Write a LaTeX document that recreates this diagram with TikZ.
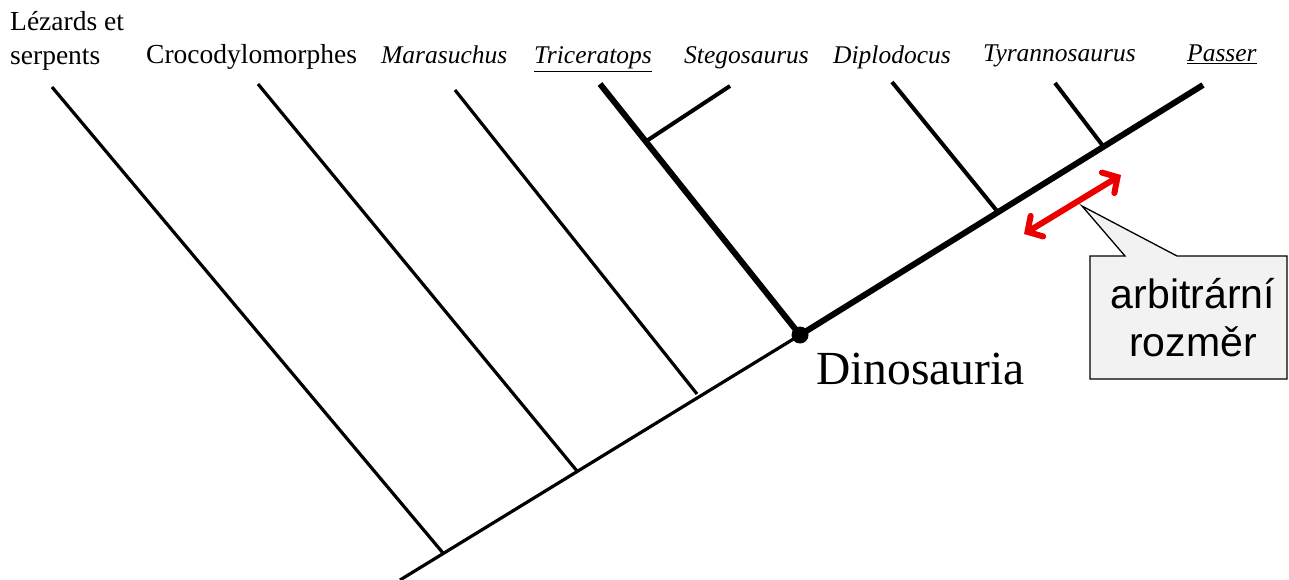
\documentclass[tikz,border=0pt]{standalone}
\usepackage{fontspec}
\setmainfont{Liberation Serif}
\newfontfamily\calloutfont{Liberation Sans}
\usetikzlibrary{arrows.meta}
\definecolor{calloutgray}{RGB}{242,242,242}
\definecolor{arrowred}{RGB}{235,0,0}
\tikzset{
  thinbr/.style={line width=3.2pt, black},
  thickbr/.style={line width=6pt, black},
  taxon/.style={anchor=base west, inner sep=0pt, font=\fontsize{27.5}{30}\selectfont},
  taxonit/.style={anchor=base west, inner sep=0pt, font=\fontsize{25.5}{28}\selectfont\itshape},
}
\begin{document}
\begin{tikzpicture}[x=1pt,y=-1pt]
\useasboundingbox (0,0) rectangle (1289,580);
% spine coordinates
\coordinate (root) at (400,580);
\coordinate (jLez) at (443,553);
\coordinate (jCro) at (577,471);
\coordinate (jMar) at (697,394);
\coordinate (dino) at (800,335);
\coordinate (jSte) at (648,140);
\coordinate (jDip) at (997,211);
\coordinate (jTyr) at (1103,146);
% tips
\coordinate (tLez) at (52,87);
\coordinate (tCro) at (258,84);
\coordinate (tMar) at (455,90);
\coordinate (tTri) at (600,84);
\coordinate (tSte) at (730,86);
\coordinate (tDip) at (892,82);
\coordinate (tTyr) at (1055,83);
\coordinate (tPas) at (1203,85);

\draw[thinbr] (root) -- (dino);
\draw[thinbr] (tLez) -- (jLez);
\draw[thinbr] (tCro) -- (jCro);
\draw[thinbr] (tMar) -- (jMar);
\draw[thickbr] (tTri) -- (dino);
\draw[thickbr] (dino) -- (tPas);
\draw[line width=4pt] (tSte) -- (jSte);
\draw[line width=4pt] (tDip) -- (jDip);
\draw[line width=4pt] (tTyr) -- (jTyr);
\fill (dino) circle (8.5);

% labels
\node[taxon] (lLez1) at (10,31) {Lézards et};
\node[taxon] (lLez2) at (10,65) {serpents};
\node[taxon] (lCro) at (146,64) {Crocodylomorphes};
\node[taxonit] (lMar) at (381,64) {Marasuchus};
\node[taxonit] (lTri) at (534,64) {\underline{Triceratops}};
\node[taxonit] (lSte) at (684,64) {Stegosaurus};
\node[taxonit] (lDip) at (833,64) {Diplodocus};
\node[taxonit] (lTyr) at (983,62) {Tyrannosaurus};
\node[taxonit] (lPas) at (1187,62) {\underline{Passer}};
\node[anchor=base west, inner sep=0pt, font=\fontsize{47.5}{50}\selectfont] (lDino) at (816,384) {Dinosauria};

% red arrow
\coordinate (aA) at (1024,234);
\coordinate (aB) at (1121,175);
\draw[arrowred, line width=6pt, line cap=round, {Straight Barb[length=11pt,width=24pt,line cap=round]}-{Straight Barb[length=11pt,width=24pt,line cap=round]}] (aA) -- (aB);

% callout
\coordinate (cTip) at (1082,206);
\coordinate (cL) at (1125,256);
\coordinate (cR) at (1177,256);
\draw[fill=calloutgray, line width=1.3pt, line join=miter] (1090,256) -- (cL) -- (cTip) -- (cR) -- (1287,256) -- (1287,379) -- (1090,379) -- cycle;
\node[align=center, inner sep=0pt, font=\calloutfont\fontsize{41}{48}\selectfont] (callout) at (1193,318) {arbitrární\\rozměr};
\end{tikzpicture}
\end{document}
